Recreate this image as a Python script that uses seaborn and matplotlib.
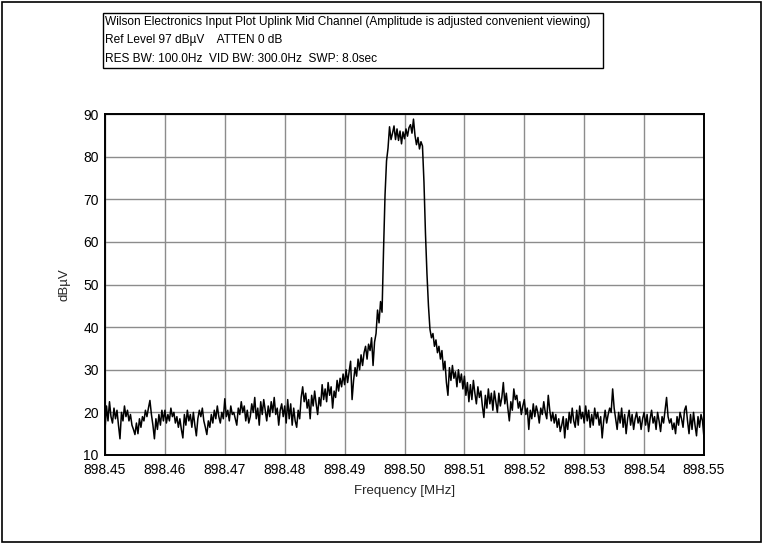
import numpy as np
import matplotlib
matplotlib.use("Agg")
import matplotlib.pyplot as plt
from matplotlib.ticker import MultipleLocator, FormatStrFormatter
from matplotlib.patches import Rectangle
import seaborn as sns

# Sweep span (MHz) and trace readings (dBuV), one reading per sweep bin
span_start = 898.45
span_stop = 898.55

floor_left = [
    16.0, 21.5, 18.0, 22.5, 19.0, 17.5, 21.0, 18.5, 20.5, 17.0,
    13.8, 20.0, 18.0, 21.5, 19.0, 20.5, 18.0, 19.5, 17.0, 16.0,
    14.8, 17.5, 15.0, 18.5, 16.5, 19.0, 18.0, 20.5, 19.0, 21.0,
    22.8, 19.5, 17.0, 13.8, 18.5, 16.0, 19.5, 17.0, 20.5, 18.0,
    20.5, 17.5, 19.5, 18.0, 21.0, 19.0, 20.0, 17.5, 19.0, 16.5,
    18.5, 16.0, 14.0, 19.5, 17.0, 20.5, 18.0, 19.5, 16.5, 20.0,
    17.0, 14.5, 18.5, 20.5, 19.0, 21.0, 18.0, 16.5, 14.8, 18.0,
    16.5, 19.5, 17.5, 20.5, 18.5, 21.5, 19.0, 17.5, 20.0, 18.5,
    23.2, 19.0, 20.5, 18.0, 21.5, 19.5, 20.0, 18.5, 17.0, 21.0,
    19.5, 22.5, 20.0, 21.5, 18.0, 20.5, 17.5, 19.0, 22.0, 20.0,
    23.5, 18.5, 21.0, 17.0, 22.5, 19.5, 23.0, 20.5, 18.0, 21.5,
    19.0, 22.5, 20.0, 23.5, 19.5, 21.0, 17.0, 20.5, 22.0, 19.0,
    21.5, 17.5, 23.0, 18.5, 22.0, 17.0, 21.0, 18.0, 16.5, 20.5,
    18.5, 23.5, 26.0, 22.5, 24.5, 21.0, 23.0, 18.5, 24.0, 21.5,
    25.0, 22.0, 19.5, 23.5, 21.5, 26.5, 23.0, 25.5, 22.5, 27.0,
    24.0, 26.0, 21.0, 25.0, 23.5, 27.5, 25.0, 28.0, 26.0, 29.0,
]

shoulder_rise = [
    26.5, 30.0, 27.0, 29.5, 32.0, 23.0, 27.5, 30.5, 28.5, 32.5,
    30.0, 33.5, 31.0, 34.0, 35.5, 32.5, 36.0, 34.5, 37.5, 31.0,
    36.5, 38.5, 44.0, 41.0, 46.0, 43.5,
]

carrier = [
    58.0, 71.0, 79.0, 82.0,
    87.0, 84.0, 85.5, 87.2, 84.0, 86.5, 83.8, 86.0, 83.0, 85.8,
    84.2, 86.5, 84.8, 86.8, 87.5, 85.5, 88.8, 85.0, 82.8, 84.5,
    81.8, 83.5, 82.5,
]

shoulder_fall = [
    74.0, 62.0, 52.5, 45.0, 39.5,
    37.5, 38.5, 35.5, 37.0, 34.0, 35.5, 32.5, 34.5, 30.0, 32.0,
    27.0, 24.0, 30.5, 27.5, 31.0, 28.0, 29.5, 26.0, 30.0, 27.0,
    29.0, 25.5,
]

floor_right = [
    28.5, 24.0, 27.0, 22.5, 26.5, 23.0, 27.5, 24.5, 22.0, 26.0,
    23.5, 25.0, 21.5, 18.8, 24.0, 21.0, 25.5, 22.0, 24.5, 20.5,
    25.0, 22.5, 20.0, 24.5, 21.5, 23.5, 27.0, 22.0, 24.5, 21.0,
    18.0, 22.5, 20.5, 25.5, 23.0, 24.0, 21.0, 22.5, 19.5, 21.5,
    23.0, 19.5, 21.0, 16.0, 20.5, 18.5, 22.0, 19.0, 21.5, 20.0,
    17.5, 21.0, 19.5, 22.5, 20.0, 18.5, 24.0, 20.5, 18.0, 20.0,
    17.5, 19.5, 16.5, 18.5, 15.5, 17.0, 19.0, 14.0, 18.5, 16.0,
    20.0, 17.5, 21.0, 18.0, 16.5, 20.5, 17.0, 21.5, 18.5, 20.0,
    17.5, 21.5, 18.0, 20.5, 16.5, 19.5, 17.0, 21.0, 18.5, 20.0,
    17.0, 19.0, 14.0, 18.0, 20.5, 17.5, 19.5, 21.0, 20.0, 25.5,
    21.0, 18.5, 16.0, 20.0, 17.5, 21.0, 16.5, 19.5, 15.0, 18.5,
    20.5, 17.0, 19.5, 16.0, 18.5, 20.0, 17.5, 19.0, 16.0, 18.5,
    20.0, 17.0, 19.5, 15.5, 18.5, 20.5, 17.5, 19.0, 16.0, 20.0,
    18.0, 15.5, 19.0, 17.5, 20.5, 23.5, 19.0, 17.5, 18.5, 16.0,
    17.5, 15.0, 19.0, 17.0, 20.0, 18.5, 16.5, 20.5, 21.5, 18.0,
    15.0, 19.5, 16.0, 20.0, 17.0, 14.5, 19.0, 16.5, 19.5, 18.0,
    14.0,
]

x_ticks = [898.45, 898.46, 898.47, 898.48, 898.49, 898.50,
           898.51, 898.52, 898.53, 898.54, 898.55]
y_ticks = [10, 20, 30, 40, 50, 60, 70, 80, 90]

header_lines = [
    "Wilson Electronics Input Plot Uplink Mid Channel (Amplitude is adjusted convenient viewing)",
    "Ref Level 97 dB\u00b5V    ATTEN 0 dB",
    "RES BW: 100.0Hz  VID BW: 300.0Hz  SWP: 8.0sec",
]

level = np.array(floor_left + shoulder_rise + carrier + shoulder_fall + floor_right)
freq = np.linspace(span_start, span_stop, len(level))

sns.set_style("white")
plt.rcParams["font.family"] = ["Liberation Sans", "DejaVu Sans"]

W, H = 763, 544
fig = plt.figure(figsize=(W / 100, H / 100), dpi=100)
ax = fig.add_axes([105 / W, 1 - 455 / H, (704 - 105) / W, (455 - 114) / H])

sns.lineplot(x=freq, y=level, ax=ax, color="black", linewidth=1.1,
             estimator=None, sort=False)

ax.set_xlim(span_start, span_stop)
ax.set_ylim(10, 90)
ax.set_xticks(x_ticks)
ax.set_yticks(y_ticks)
ax.xaxis.set_major_formatter(FormatStrFormatter("%.2f"))
ax.xaxis.set_minor_locator(MultipleLocator(0.005))
ax.yaxis.set_minor_locator(MultipleLocator(5))
ax.grid(True, which="major", color="#8c8c8c", linewidth=1.0)
ax.set_axisbelow(True)
ax.tick_params(which="both", direction="inout", length=7, width=1.2,
               colors="black", labelsize=10, pad=1)
ax.tick_params(axis="x", pad=2)
for side in ["left", "bottom", "top", "right"]:
    ax.spines[side].set_color("black")
    ax.spines[side].set_linewidth(1.4)

ax.set_xlabel("Frequency [MHz]", fontsize=9.5, labelpad=6)
ax.set_ylabel("dB\u00b5V", fontsize=9.5, labelpad=9)

# header box above the plot
fig.patches.append(Rectangle((103 / W, 1 - 68 / H), (603 - 103) / W, (68 - 13) / H,
                             transform=fig.transFigure, fill=False,
                             edgecolor="black", linewidth=1.0))
for k, line in enumerate(header_lines):
    fig.text(105 / W, 1 - (22 + 18.3 * k) / H, line, fontsize=8.6,
             ha="left", va="center", color="black")

# outer frame
fig.patches.append(Rectangle((2 / W, 2 / H), (W - 4) / W, (H - 4) / H,
                             transform=fig.transFigure, fill=False,
                             edgecolor="black", linewidth=1.2))

fig.savefig("out.png", dpi=100)
